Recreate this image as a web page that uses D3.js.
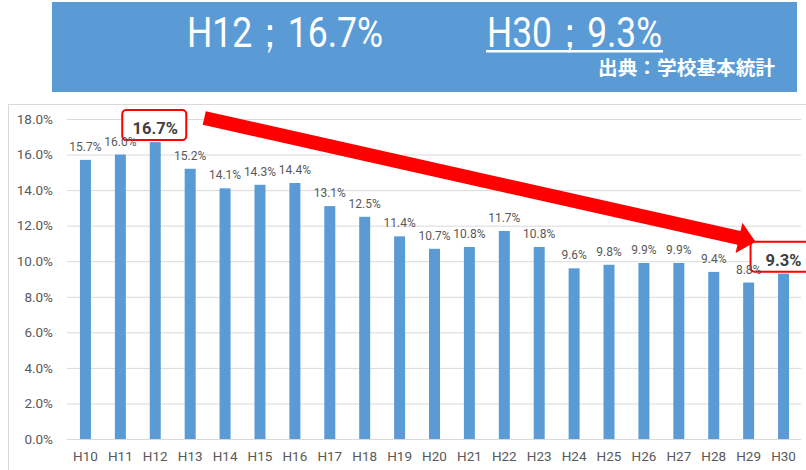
<!DOCTYPE html>
<html>
<head>
<meta charset="utf-8">
<script src="https://cdn.jsdelivr.net/npm/d3@7"></script>
<style>
  html, body { margin: 0; padding: 0; background: #fff; }
  svg { display: block; }
</style>
</head>
<body>
<svg id="chart" width="806" height="470"></svg>
<script>
// chart data
const years = ["H10", "H11", "H12", "H13", "H14", "H15", "H16", "H17", "H18", "H19", "H20",
  "H21", "H22", "H23", "H24", "H25", "H26", "H27", "H28", "H29", "H30"]
const rates = [15.7, 16.0, 16.7, 15.2, 14.1, 14.3, 14.4, 13.1, 12.5, 11.4, 10.7,
  10.8, 11.7, 10.8, 9.6, 9.8, 9.9, 9.9, 9.4, 8.8, 9.3]
const yTicks = [0, 2, 4, 6, 8, 10, 12, 14, 16, 18]
const highlights = ["H12", "H30"]
const bannerLeft = "H12；16.7%"
const bannerRight = "H30；9.3%"
const source = "出典：学校基本統計"

const data = years.map((y, i) => ({ year: y, value: rates[i] }))

const svg = d3.select("#chart")
const font = "Roboto, 'Noto Sans', sans-serif"
const textGray = "#595959"

/* ---------- banner ---------- */
const banner = svg.append("g")
banner.append("rect")
  .attr("x", 52).attr("y", 2)
  .attr("width", 745).attr("height", 90)
  .attr("fill", "#5b9bd5")

banner.append("text")
  .attr("x", 187).attr("y", 47)
  .attr("textLength", 196).attr("lengthAdjust", "spacingAndGlyphs")
  .style("font-family", font).style("font-size", "43px")
  .attr("fill", "#fff")
  .text(bannerLeft)

banner.append("text")
  .attr("x", 487).attr("y", 47)
  .attr("textLength", 175).attr("lengthAdjust", "spacingAndGlyphs")
  .style("font-family", font).style("font-size", "43px")
  .attr("fill", "#fff")
  .text(bannerRight)

// underline under the H30 figure
banner.append("rect")
  .attr("x", 486).attr("y", 50)
  .attr("width", 177).attr("height", 2.5)
  .attr("fill", "#fff")

banner.append("text")
  .attr("x", 598).attr("y", 75)
  .attr("textLength", 177).attr("lengthAdjust", "spacingAndGlyphs")
  .style("font-family", "'Noto Sans CJK JP', sans-serif")
  .style("font-size", "19px").style("font-weight", "bold")
  .attr("fill", "#fff")
  .text(source)

/* ---------- chart ---------- */
// outer chart frame (runs off the right and bottom edges)
svg.append("rect")
  .attr("x", 8.5).attr("y", 104.5)
  .attr("width", 900).attr("height", 500)
  .attr("fill", "none").attr("stroke", "#d9d9d9")

const x = d3.scaleBand()
  .domain(years)
  .range([68, 801])
  .paddingInner(0.685)
  .paddingOuter(0.3425)

const y = d3.scaleLinear()
  .domain([0, 18])
  .range([439, 119])

// gridlines + y labels
const yAxis = svg.append("g")
  .attr("transform", "translate(67,0)")
  .call(d3.axisLeft(y).tickValues(yTicks).tickSize(-734).tickPadding(14)
    .tickFormat(d => d.toFixed(1) + "%"))
yAxis.select(".domain").remove()
yAxis.selectAll(".tick line").attr("stroke", "#d9d9d9").attr("stroke-width", 1)
yAxis.selectAll(".tick text")
  .attr("fill", textGray)
  .style("font-family", font).style("font-size", "13.5px")

// x labels
const xAxis = svg.append("g")
  .attr("transform", "translate(0,439)")
  .call(d3.axisBottom(x).tickSize(0).tickPadding(12))
xAxis.select(".domain").remove()
xAxis.selectAll(".tick text")
  .attr("fill", textGray)
  .style("font-family", font).style("font-size", "13.5px")

// bars
svg.append("g")
  .selectAll("rect")
  .data(data)
  .join("rect")
  .attr("x", d => x(d.year))
  .attr("y", d => y(d.value))
  .attr("width", x.bandwidth())
  .attr("height", d => y(0) - y(d.value))
  .attr("fill", "#5b9bd5")

const cx = d => x(d.year) + x.bandwidth() / 2
const isHl = d => highlights.includes(d.year)

// red boxes behind the highlighted labels
svg.append("g")
  .selectAll("rect")
  .data(data.filter(isHl))
  .join("rect")
  .attr("x", d => cx(d) - 33)
  .attr("y", d => y(d.value) - 9 - 23)
  .attr("width", 64).attr("height", 30)
  .attr("rx", 4)
  .attr("fill", "#fff")
  .attr("stroke", "#f00").attr("stroke-width", 2)

// value labels (highlighted ones bold and larger)
svg.append("g")
  .selectAll("text")
  .data(data)
  .join("text")
  .attr("x", cx)
  .attr("y", d => y(d.value) - (isHl(d) ? 8 : 9))
  .attr("text-anchor", "middle")
  .attr("fill", d => isHl(d) ? "#404040" : textGray)
  .style("font-family", font)
  .style("font-size", d => isHl(d) ? "16.5px" : "12px")
  .style("font-weight", d => isHl(d) ? "bold" : "normal")
  .text(d => d.value.toFixed(1) + "%")

/* ---------- red trend arrow ---------- */
const first = data.find(d => d.year === highlights[0])
const last = data.find(d => d.year === highlights[1])
const start = [cx(first) + 49, y(18) - 1]
const tip = [cx(last) - 28, y(last.value) - 9 - 23]
const len = Math.hypot(tip[0] - start[0], tip[1] - start[1])
const angle = Math.atan2(tip[1] - start[1], tip[0] - start[0]) * 180 / Math.PI
const headLen = 17, headHalf = 15.5, shaftHalf = 7

svg.append("path")
  .attr("transform", `translate(${start[0]},${start[1]}) rotate(${angle})`)
  .attr("d", d3.line()([
    [0, -shaftHalf], [len - headLen, -shaftHalf], [len - headLen, -headHalf],
    [len, 0],
    [len - headLen, headHalf], [len - headLen, shaftHalf], [0, shaftHalf]
  ]) + "Z")
  .attr("fill", "#f00")
</script>
</body>
</html>
